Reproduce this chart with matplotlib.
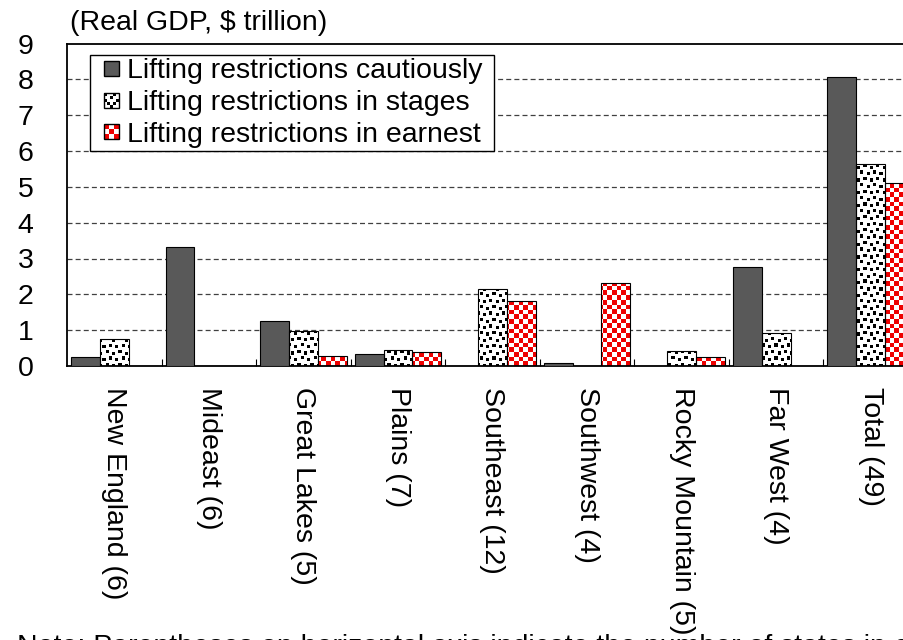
import numpy as np
import matplotlib
matplotlib.use('Agg')
import matplotlib.pyplot as plt
from matplotlib.patches import Rectangle, Patch
from matplotlib.legend_handler import HandlerBase

plt.rcParams['font.family'] = ['Liberation Sans', 'DejaVu Sans']

# ---------------- data ----------------
categories = ['New England (6)', 'Mideast (6)', 'Great Lakes (5)', 'Plains (7)',
              'Southeast (12)', 'Southwest (4)', 'Rocky Mountain (5)', 'Far West (4)',
              'Total (49)']
series_names = ['Lifting restrictions cautiously', 'Lifting restrictions in stages',
                'Lifting restrictions in earnest']
cautious = [0.24, 3.31, 1.26, 0.33, 0.0, 0.09, 0.0, 2.77, 8.07]
stages = [0.75, 0.0, 0.98, 0.44, 2.14, 0.0, 0.43, 0.91, 5.64]
earnest = [0.0, 0.0, 0.28, 0.39, 1.81, 2.32, 0.24, 0.0, 5.11]
yticks = [0, 1, 2, 3, 4, 5, 6, 7, 8, 9]
title_text = '(Real GDP, $ trillion)'
note_text = 'Note: Parentheses on horizontal axis indicate the number of states in each region.'

# ---------------- style ----------------
W, H = 904, 640
FS = 20.5
DARK = '#595959'
RED = '#EE0000'

fig = plt.figure(figsize=(W / 100, H / 100), dpi=100)
ax_l, ax_r, ax_t, ax_b = 67, 918, 43.5, 366
ax = fig.add_axes([ax_l / W, 1 - ax_b / H, (ax_r - ax_l) / W, (ax_b - ax_t) / H])

n = len(categories)
x = np.arange(n) + 0.5
bw = 0.305

ax.set_xlim(0, n)
ax.set_ylim(0, 9)

# textures
ax_w_px = ax_r - ax_l
ax_h_px = ax_b - ax_t

def dot_texture(px=1.6):
    nx = int(round(ax_w_px / px)); ny = int(round(ax_h_px / px))
    tile = np.zeros((8, 8))
    for (r, c) in [(0, 0), (1, 4), (4, 2), (5, 6)]:
        tile[r:r + 2, c:c + 2] = 1
    arr = np.tile(tile, (ny // 8 + 1, nx // 8 + 1))[:ny, :nx]
    img = np.ones((ny, nx, 3))
    img[arr == 1] = 0.0
    return img

def checker_texture(px=4.7):
    nx = int(round(ax_w_px / px)); ny = int(round(ax_h_px / px))
    i, j = np.indices((ny, nx))
    m = (i + j) % 2
    img = np.ones((ny, nx, 3))
    img[m == 1] = matplotlib.colors.to_rgb(RED)
    return img

dots_img = dot_texture()
check_img = checker_texture()

# bars
b1 = ax.bar(x - bw, cautious, bw, color=DARK, edgecolor='black', linewidth=0.8, zorder=3)
b2 = ax.bar(x, stages, bw, facecolor='none', edgecolor='black', linewidth=0.8, zorder=3)
b3 = ax.bar(x + bw, earnest, bw, facecolor='none', edgecolor='black', linewidth=0.8, zorder=3)

for cont, tex in [(b2, dots_img), (b3, check_img)]:
    for bar in cont:
        if bar.get_height() <= 0:
            continue
        im = ax.imshow(tex, extent=[0, n, 0, 9], aspect='auto', interpolation='nearest',
                       zorder=2.5, origin='upper')
        im.set_clip_path(bar)

ax.set_xlim(0, n)
ax.set_ylim(0, 9)

# grid
for yv in yticks[1:-1]:
    ax.axhline(yv, color='#404040', linewidth=0.9, linestyle=(0, (4, 2.5)), zorder=1)

# spines
for s in ['left', 'bottom', 'top']:
    ax.spines[s].set_linewidth(1.3)
    ax.spines[s].set_color('black')
ax.spines['right'].set_visible(False)

ax.set_yticks(yticks)
ax.set_yticklabels([str(v) for v in yticks], fontsize=FS)
ax.tick_params(axis='y', length=0, pad=24)

ax.set_xticks(np.arange(1, n))
ax.set_xticklabels([])
ax.tick_params(axis='x', which='major', direction='in', length=5, width=0.8)
ax.set_xticks(x, minor=True)
ax.set_xticklabels(categories, minor=True, rotation=-90, fontsize=FS, va='top', ha='center',
                   rotation_mode='default')
ax.tick_params(axis='x', which='minor', length=0, pad=15)

# title & note
fig.text(70 / W, 1 - 10 / H, title_text, fontsize=FS, ha='left', va='top')
fig.text(17 / W, 1 - 634 / H, note_text, fontsize=FS, ha='left', va='top')

# legend with custom square handlers
class SquareHandler(HandlerBase):
    def __init__(self, grid, colors, side_frac=0.53):
        super().__init__()
        self.grid = grid
        self.colors = colors
        self.side_frac = side_frac

    def create_artists(self, legend, orig_handle, xdescent, ydescent, width, height, fontsize, trans):
        arts = []
        g = self.grid
        nr, nc = g.shape
        side = self.side_frac * fontsize
        x0 = -xdescent + width - side
        y0 = -ydescent + (height - side) / 2
        cw = side / nc
        ch = side / nr
        for r in range(nr):
            for c in range(nc):
                rect = Rectangle((x0 + c * cw, y0 + (nr - 1 - r) * ch), cw, ch,
                                 facecolor=self.colors[g[r, c]], edgecolor='none',
                                 transform=trans)
                arts.append(rect)
        border = Rectangle((x0, y0), side, side, fill=False, edgecolor='black',
                           linewidth=1.0, transform=trans)
        arts.append(border)
        return arts

solid_grid = np.array([[0]])
dot_grid = np.array([[1, 0, 0, 1, 0],
                     [0, 0, 1, 0, 0],
                     [1, 0, 0, 0, 1],
                     [0, 1, 0, 1, 0],
                     [0, 0, 1, 0, 0]])
chk_grid = np.array([[1, 0, 1],
                     [0, 1, 0],
                     [1, 0, 1]])

h1 = Patch(facecolor=DARK)
h2 = Patch(facecolor='white')
h3 = Patch(facecolor='red')
labels = [s + ' ' for s in series_names]
leg = ax.legend([h1, h2, h3], labels, loc='upper left',
                bbox_to_anchor=(90 / W, 1 - 55 / H), bbox_transform=fig.transFigure,
                borderaxespad=0, fontsize=FS, frameon=True, fancybox=False,
                edgecolor='black', framealpha=1, handlelength=0.9, handleheight=0.7,
                handletextpad=0.28, labelspacing=0.2, borderpad=0.12,
                handler_map={h1: SquareHandler(solid_grid, [DARK]),
                             h2: SquareHandler(dot_grid, ['white', 'black']),
                             h3: SquareHandler(chk_grid, ['white', RED])})
leg.get_frame().set_linewidth(1.0)
leg.set_zorder(5)

fig.savefig('out.png', dpi=100)
